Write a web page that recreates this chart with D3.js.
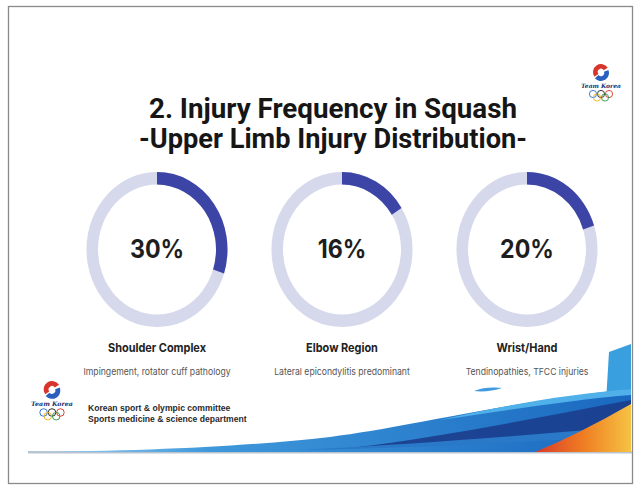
<!DOCTYPE html>
<html>
<head>
<meta charset="utf-8">
<script src="https://cdn.jsdelivr.net/npm/d3@7/dist/d3.min.js"></script>
<style>
  body { margin: 0; background: #fff; }
  svg { display: block; }
</style>
</head>
<body>
<svg id="chart" width="641" height="489"></svg>
<script>
// chart data
const regions = ["Shoulder Complex", "Elbow Region", "Wrist/Hand"];
const shares = [30, 16, 20];
const notes = ["Impingement, rotator cuff pathology", "Lateral epicondylitis predominant", "Tendinopathies, TFCC injuries"];
const titleLines = ["2. Injury Frequency in Squash", "-Upper Limb Injury Distribution-"];
const footerLines = ["Korean sport & olympic committee", "Sports medicine & science department"];

const svg = d3.select("#chart");
const squeeze = 0.91; // slide was squashed sideways

// slide frame
svg.append("rect")
    .attr("x", 8.5).attr("y", 6.5)
    .attr("width", 624).attr("height", 477)
    .attr("fill", "#fff")
    .attr("stroke", "#8a8a8a")
    .attr("stroke-width", 1.3);

// title
const titleWidths = [368, 388];
svg.selectAll(".title")
    .data(titleLines)
    .join("text")
    .attr("class", "title")
    .attr("x", 333)
    .attr("y", (d, i) => 118 + i * 30)
    .attr("text-anchor", "middle")
    .attr("font-family", "Roboto, sans-serif")
    .attr("font-weight", 700)
    .attr("font-size", 28)
    .attr("fill", "#161616")
    .attr("textLength", (d, i) => titleWidths[i])
    .attr("lengthAdjust", "spacingAndGlyphs")
    .text(d => d);

// donuts
const x = d3.scalePoint().domain(regions).range([157, 527]);
const angle = d3.scaleLinear().domain([0, 100]).range([0, 2 * Math.PI]);
const cy = 249.5;
const arc = d3.arc().innerRadius(59).outerRadius(70.5);

const rows = regions.map((r, i) => ({ region: r, value: shares[i], note: notes[i] }));

const donut = svg.selectAll(".donut")
    .data(rows)
    .join("g")
    .attr("class", "donut")
    .attr("transform", d => `translate(${x(d.region)},${cy})`);

const ring = donut.append("g").attr("transform", "scale(1,1.1)");
ring.append("path")
    .attr("d", arc({ startAngle: 0, endAngle: 2 * Math.PI }))
    .attr("fill", "#d6d9eb");
ring.append("path")
    .attr("d", d => arc({ startAngle: 0, endAngle: angle(d.value) }))
    .attr("fill", "#3c45a6");

function squish(sel, dx, dy) {
    sel.attr("transform", `translate(${dx},${dy}) scale(${squeeze},1)`);
}

donut.append("text")
    .call(squish, 0, 8)
    .attr("text-anchor", "middle")
    .attr("font-family", "Inter, sans-serif")
    .attr("font-weight", 700)
    .attr("font-size", 25.5)
    .attr("fill", "#1e1e1e")
    .text(d => d.value + "%");

donut.append("text")
    .call(squish, 0, 102.5)
    .attr("text-anchor", "middle")
    .attr("font-family", "Inter, sans-serif")
    .attr("font-weight", 700)
    .attr("font-size", 12)
    .attr("fill", "#222")
    .text(d => d.region);

donut.append("text")
    .call(squish, 0, 125)
    .attr("text-anchor", "middle")
    .attr("font-family", "Inter, sans-serif")
    .attr("font-size", 9.5)
    .attr("fill", "#555")
    .text(d => d.note);

// footer swoosh
const defs = svg.append("defs");
const band = defs.append("linearGradient").attr("id", "band").attr("x1", 0).attr("x2", 1);
band.append("stop").attr("offset", 0).attr("stop-color", "#a6d4f2");
band.append("stop").attr("offset", 0.3).attr("stop-color", "#3e98da");
band.append("stop").attr("offset", 1).attr("stop-color", "#1a68c0");
const fire = defs.append("linearGradient").attr("id", "fire").attr("x1", 0).attr("x2", 1);
fire.append("stop").attr("offset", 0).attr("stop-color", "#d8392a");
fire.append("stop").attr("offset", 0.5).attr("stop-color", "#ef7d22");
fire.append("stop").attr("offset", 1).attr("stop-color", "#f6c343");

const foot = svg.append("g");
foot.append("rect")
    .attr("x", 28).attr("y", 451).attr("width", 604).attr("height", 2.5)
    .attr("fill", "#b9c4cf");
// right panel
foot.append("path")
    .attr("d", "M609,352 L631,344 L631,452 L603,452 Z")
    .attr("fill", "#3a9fdf");
// main band
foot.append("path")
    .attr("d", "M28,452 C150,451 250,446 330,437 C410,427 500,403 631,389 L631,452 Z")
    .attr("fill", "url(#band)");
// light top highlight
foot.append("path")
    .attr("d", "M440,420 C510,404 570,394 631,389 L631,395 C570,400 510,410 440,420 Z")
    .attr("fill", "#4fb0ea");
// navy blade
foot.append("path")
    .attr("d", "M350,448 C450,436 540,417 631,400 L631,428 C560,434 460,443 350,448 Z")
    .attr("fill", "#1b3f8e")
    .attr("opacity", 0.92);
foot.append("path")
    .attr("d", "M300,450 C420,444 520,436 631,426 L631,436 C520,442 420,448 300,450 Z")
    .attr("fill", "#2a78c8");
// fire corner
foot.append("path")
    .attr("d", "M535,452 C562,441 596,424 631,404 L631,452 Z")
    .attr("fill", "url(#fire)");
// small dash
foot.append("path")
    .attr("d", "M474,391 C482,387 495,387 502,388 C494,391 482,392 474,391 Z")
    .attr("fill", "#3f9be0");

// footer text
svg.selectAll(".foot-text")
    .data(footerLines)
    .join("text")
    .attr("class", "foot-text")
    .attr("x", 88)
    .attr("y", (d, i) => 411 + i * 11)
    .attr("font-family", "'Liberation Sans', Arial, sans-serif")
    .attr("font-weight", 700)
    .attr("font-size", 8.6)
    .attr("fill", "#2a2a2a")
    .text(d => d);

// team korea logos
const ringColors = ["#2a6fc9", "#222", "#d9342b", "#f2b01e", "#2a9a4a"];
function drawLogo(cx, top, s) {
    const g = svg.append("g").attr("transform", `translate(${cx},${top}) scale(${s})`);
    const swirl = d3.arc().innerRadius(3.2).outerRadius(8);
    g.append("path").attr("d", swirl({ startAngle: -2.2, endAngle: 1.0 })).attr("fill", "#d9342b").attr("transform", "translate(0,8)");
    g.append("path").attr("d", swirl({ startAngle: 1.2, endAngle: 4.0 })).attr("fill", "#2a5fc0").attr("transform", "translate(0,9)");
    g.append("text")
        .attr("x", 0).attr("y", 24)
        .attr("text-anchor", "middle")
        .attr("font-family", "'DejaVu Serif', serif")
        .attr("font-style", "italic")
        .attr("font-weight", 700)
        .attr("font-size", 6)
        .attr("fill", "#1a2f6e")
        .text("Team Korea");
    const rp = [[-8, 30], [0, 30], [8, 30], [-4, 33.5], [4, 33.5]];
    g.selectAll("circle")
        .data([0, 1, 2, 3, 4])
        .join("circle")
        .attr("cx", i => rp[i][0])
        .attr("cy", i => rp[i][1])
        .attr("r", 3.6)
        .attr("fill", "none")
        .attr("stroke", i => ringColors[i])
        .attr("stroke-width", 0.9);
}
drawLogo(601, 64, 1.0);
drawLogo(52, 381, 1.05);
</script>
</body>
</html>
